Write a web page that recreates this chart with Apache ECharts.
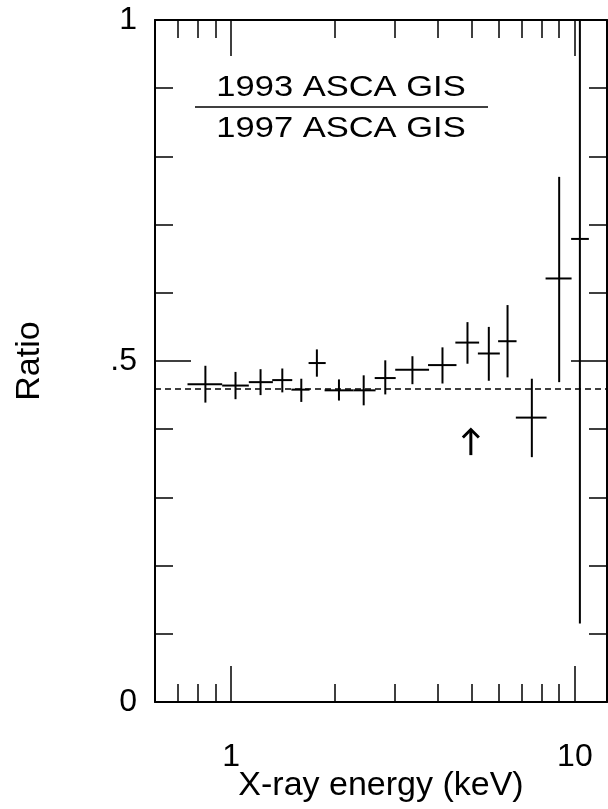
<!DOCTYPE html>
<html>
<head>
<meta charset="utf-8">
<script src="https://cdn.jsdelivr.net/npm/echarts@6/dist/echarts.min.js"></script>
<style>
html, body { margin: 0; padding: 0; background: #fff; }
#chart { width: 608px; height: 809px; }
</style>
</head>
<body>
<div id="chart"></div>
<script>
// energy bins (keV): centre, low edge, high edge
const energy   = [0.841, 1.029, 1.217, 1.408, 1.599, 1.775, 2.058, 2.429, 2.807, 3.367, 4.118, 4.869, 5.617, 6.368, 7.494, 9.00, 10.34];
const energyLo = [0.746, 0.941, 1.125, 1.316, 1.496, 1.679, 1.869, 2.27, 2.615, 3.0, 3.738, 4.489, 5.22, 5.978, 6.732, 8.216, 9.75];
const energyHi = [0.941, 1.125, 1.322, 1.505, 1.69, 1.883, 2.27, 2.63, 3.01, 3.764, 4.523, 5.264, 6.047, 6.764, 8.272, 9.78, 10.98];
// ratio 1993/1997 with error bar ends
const ratio    = [0.466, 0.464, 0.469, 0.472, 0.458, 0.497, 0.457, 0.457, 0.475, 0.487, 0.494, 0.527, 0.511, 0.529, 0.417, 0.621, 0.679];
const ratioLo  = [0.439, 0.444, 0.450, 0.454, 0.440, 0.477, 0.442, 0.435, 0.451, 0.466, 0.467, 0.496, 0.471, 0.476, 0.359, 0.469, 0.115];
const ratioHi  = [0.493, 0.484, 0.488, 0.489, 0.474, 0.517, 0.473, 0.479, 0.501, 0.507, 0.520, 0.557, 0.550, 0.582, 0.474, 0.770, 1.24];

const meanRatio = 0.46;
// arrow marker: energy, tail ratio, head ratio
const arrowPoint = [4.98, 0.362, 0.401];

const majorX = [1, 10];
const minorX = [0.7, 0.8, 0.9, 2, 3, 4, 5, 6, 7, 8, 9];

const FONT = "'Liberation Sans', Arial, Helvetica, sans-serif";

const chart = echarts.init(document.getElementById('chart'));

const barData = energy.map((e, i) => [e, ratio[i], energyLo[i], energyHi[i], ratioLo[i], ratioHi[i]]);

const black = '#000';

function xAxisDef(pos, ticks, len, main) {
  return {
    type: 'log',
    min: 0.6,
    max: 12.4,
    position: pos,
    axisLine: { show: main, lineStyle: { color: black, width: 2 } },
    axisTick: { show: true, inside: true, length: len, customValues: ticks, lineStyle: { color: black, width: 1.5 } },
    axisLabel: {
      show: main && pos === 'bottom' && len > 20,
      customValues: majorX,
      fontFamily: FONT, fontSize: 32, color: black, margin: 39
    },
    splitLine: { show: false },
    minorSplitLine: { show: false },
    name: main && pos === 'bottom' && len > 20 ? 'X-ray energy (keV)' : '',
    nameLocation: 'middle',
    nameGap: 67,
    nameMoveOverlap: false,
    nameTextStyle: { fontFamily: FONT, fontSize: 34, color: black }
  };
}

function yAxisDef(pos) {
  return {
    type: 'value',
    min: 0,
    max: 1,
    interval: 0.5,
    position: pos,
    axisLine: { show: true, lineStyle: { color: black, width: 2 } },
    axisTick: { show: true, inside: true, length: 36, lineStyle: { color: black, width: 1.5 } },
    minorTick: { show: true, splitNumber: 5, length: 18, lineStyle: { color: black, width: 1.5 } },
    axisLabel: {
      show: pos === 'left',
      fontFamily: FONT, fontSize: 32, color: black, margin: 18,
      formatter: v => String(v).replace('0.', '.')
    },
    splitLine: { show: false },
    minorSplitLine: { show: false },
    name: pos === 'left' ? 'Ratio' : '',
    nameLocation: 'middle',
    nameRotate: 90,
    nameGap: 108,
    nameMoveOverlap: false,
    nameTextStyle: { fontFamily: FONT, fontSize: 34, color: black }
  };
}

const option = {
  animation: false,
  backgroundColor: '#fff',
  grid: { left: 155, right: 1, top: 20, bottom: 107, containLabel: false, outerBoundsMode: 'none' },
  xAxis: [
    xAxisDef('bottom', majorX, 36, true),
    xAxisDef('bottom', minorX, 18, false),
    xAxisDef('top', majorX, 36, true),
    xAxisDef('top', minorX, 18, false)
  ],
  yAxis: [yAxisDef('left'), yAxisDef('right')],
  graphic: [
    {
      type: 'text', x: 341, y: 88, scaleX: 1.15,
      style: { text: '1993 ASCA GIS', font: '30px ' + FONT, fill: black, textAlign: 'center', textVerticalAlign: 'middle' }
    },
    {
      type: 'line', shape: { x1: 195, y1: 107, x2: 488, y2: 107 },
      style: { stroke: black, lineWidth: 1.5 }
    },
    {
      type: 'text', x: 341, y: 129, scaleX: 1.15,
      style: { text: '1997 ASCA GIS', font: '30px ' + FONT, fill: black, textAlign: 'center', textVerticalAlign: 'middle' }
    }
  ],
  series: [
    {
      type: 'custom',
      xAxisIndex: 0,
      yAxisIndex: 0,
      clip: true,
      encode: { x: [0, 2, 3], y: [1, 4, 5] },
      data: barData,
      renderItem: function (params, api) {
        const l = api.coord([api.value(2), api.value(1)]);
        const r = api.coord([api.value(3), api.value(1)]);
        const b = api.coord([api.value(0), api.value(4)]);
        const t = api.coord([api.value(0), api.value(5)]);
        return {
          type: 'group',
          children: [
            { type: 'line', shape: { x1: l[0], y1: l[1], x2: r[0], y2: r[1] }, style: { stroke: black, lineWidth: 2 } },
            { type: 'line', shape: { x1: b[0], y1: b[1], x2: t[0], y2: t[1] }, style: { stroke: black, lineWidth: 2 } }
          ]
        };
      },
      markLine: {
        silent: true,
        symbol: 'none',
        label: { show: false },
        lineStyle: { color: black, width: 1.5, type: [6, 4] },
        data: [{ yAxis: meanRatio }]
      }
    },
    {
      type: 'custom',
      xAxisIndex: 0,
      yAxisIndex: 0,
      encode: { x: 0, y: [1, 2] },
      data: [arrowPoint],
      renderItem: function (params, api) {
        const tail = api.coord([api.value(0), api.value(1)]);
        const head = api.coord([api.value(0), api.value(2)]);
        return {
          type: 'group',
          children: [
            { type: 'line', shape: { x1: tail[0], y1: tail[1], x2: head[0], y2: head[1] + 1 }, style: { stroke: black, lineWidth: 3 } },
            {
              type: 'polyline',
              shape: { points: [[head[0] - 8, head[1] + 9], [head[0], head[1] + 1], [head[0] + 8, head[1] + 9]] },
              style: { stroke: black, lineWidth: 3, fill: null }
            }
          ]
        };
      }
    }
  ]
};

chart.setOption(option);
</script>
</body>
</html>
